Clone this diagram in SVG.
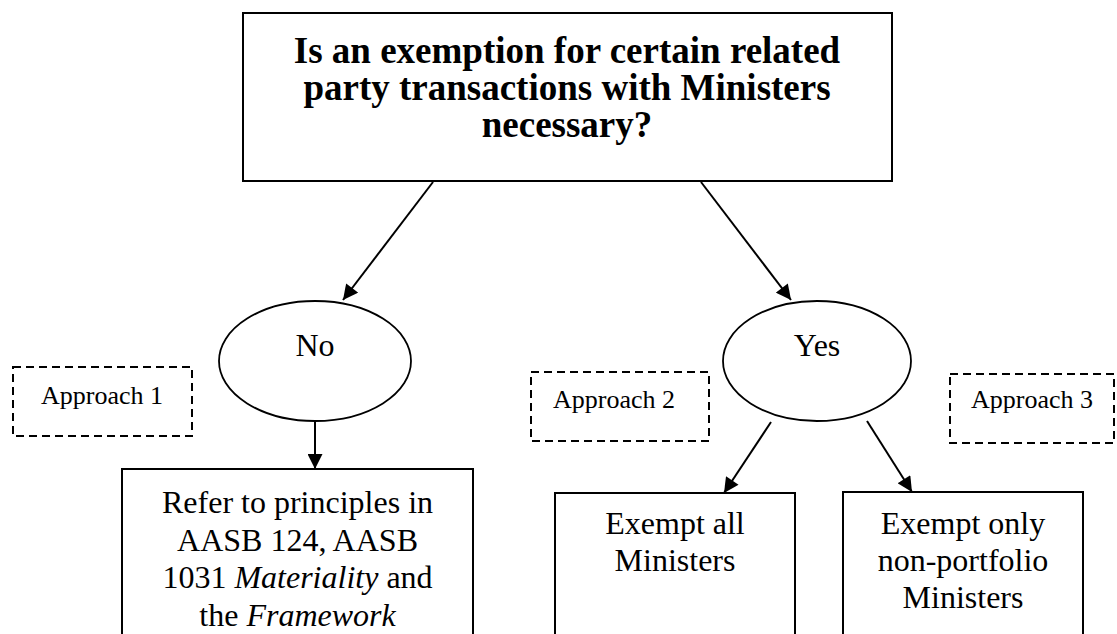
<svg xmlns="http://www.w3.org/2000/svg" width="1117" height="634" viewBox="0 0 1117 634">
  <style>
    .box { fill: #ffffff; stroke: #000000; stroke-width: 2; }
    .ell { fill: #ffffff; stroke: #000000; stroke-width: 1.8; }
    .dash { fill: none; stroke: #000000; stroke-width: 2; stroke-dasharray: 8 5; }
    .conn { stroke: #000000; stroke-width: 2; fill: none; }
    .t { font-family: "Liberation Serif", "Times New Roman", serif; fill: #000000; text-anchor: middle; }
    .title { font-size: 37px; font-weight: bold; }
    .body { font-size: 32px; }
    .small { font-size: 26px; }
    .it { font-style: italic; }
  </style>
  <defs>
    <marker id="arr" viewBox="0 0 10 10" refX="10" refY="5" markerWidth="16" markerHeight="15" markerUnits="userSpaceOnUse" orient="auto">
      <path d="M0,0 L10,5 L0,10 z" fill="#000000"/>
    </marker>
  </defs>
  <rect width="1117" height="634" fill="#ffffff"/>

  <g id="question">
    <rect class="box" x="243" y="13" width="649" height="168"/>
    <text class="t title" x="567" y="63">Is an exemption for certain related</text>
    <text class="t title" x="567" y="100">party transactions with Ministers</text>
    <text class="t title" x="567" y="137">necessary?</text>
  </g>

  <g id="no">
    <ellipse class="ell" cx="315" cy="361" rx="96" ry="60"/>
    <text class="t body" x="315" y="356">No</text>
  </g>

  <g id="yes">
    <ellipse class="ell" cx="817" cy="361" rx="94" ry="60"/>
    <text class="t body" x="817" y="356">Yes</text>
  </g>

  <g id="approach1">
    <rect class="dash" x="13" y="367" width="179" height="69"/>
    <text class="t small" x="102" y="404">Approach 1</text>
  </g>

  <g id="approach2">
    <rect class="dash" x="531" y="372" width="178" height="69"/>
    <text class="t small" x="614" y="408">Approach 2</text>
  </g>

  <g id="approach3">
    <rect class="dash" x="950" y="374" width="164" height="69"/>
    <text class="t small" x="1032" y="408">Approach 3</text>
  </g>

  <g id="refer">
    <rect class="box" x="122" y="469" width="351" height="180"/>
    <text class="t body" x="297.5" y="513">Refer to principles in</text>
    <text class="t body" x="297.5" y="550.5">AASB 124, AASB</text>
    <text class="t body" x="297.5" y="588">1031 <tspan class="it">Materiality</tspan> and</text>
    <text class="t body" x="297.5" y="625.5">the <tspan class="it">Framework</tspan></text>
  </g>

  <g id="exempt-all">
    <rect class="box" x="555" y="493" width="240" height="160"/>
    <text class="t body" x="675" y="534">Exempt all</text>
    <text class="t body" x="675" y="571">Ministers</text>
  </g>

  <g id="exempt-only">
    <rect class="box" x="843" y="492" width="240" height="160"/>
    <text class="t body" x="963" y="534">Exempt only</text>
    <text class="t body" x="963" y="571">non-portfolio</text>
    <text class="t body" x="963" y="608">Ministers</text>
  </g>

  <g id="connectors">
    <line class="conn" x1="433" y1="182" x2="343" y2="300" marker-end="url(#arr)"/>
    <line class="conn" x1="701" y1="182" x2="791" y2="300" marker-end="url(#arr)"/>
    <line class="conn" x1="315" y1="421" x2="315" y2="469" marker-end="url(#arr)"/>
    <line class="conn" x1="771" y1="422" x2="724" y2="493" marker-end="url(#arr)"/>
    <line class="conn" x1="867" y1="421" x2="912" y2="492" marker-end="url(#arr)"/>
  </g>
</svg>
